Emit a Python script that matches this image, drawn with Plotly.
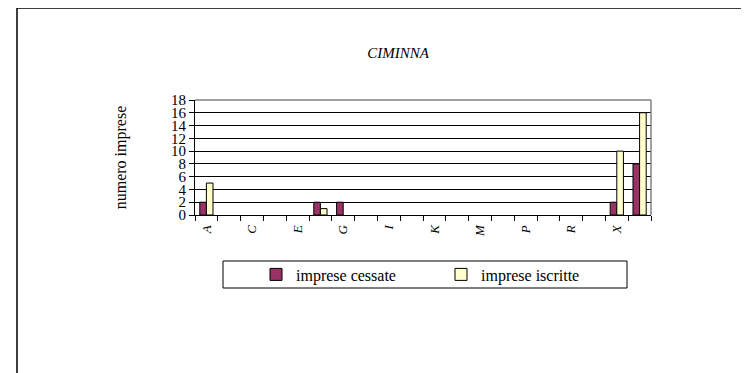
import plotly.graph_objects as go

categories = ["A", "B", "C", "D", "E", "F", "G", "H", "I", "J", "K", "L", "M", "N",
              "P", "Q", "R", "S", "X", "Totale"]
tick_labels = ["A", "", "C", "", "E", "", "G", "", "I", "", "K", "", "M", "",
               "P", "", "R", "", "X", ""]
cessate = [2, 0, 0, 0, 0, 2, 2, 0, 0, 0, 0, 0, 0, 0, 0, 0, 0, 0, 2, 8]
iscritte = [5, 0, 0, 0, 0, 1, 0, 0, 0, 0, 0, 0, 0, 0, 0, 0, 0, 0, 10, 16]

FONT = "Liberation Serif, Times New Roman, serif"

OFF = 8  # default page body margin
W, H = 749 - OFF, 373 - OFF
# plot area in screen px
L, R, T, B = 195, 651, 100, 215


def px_x(px):
    return (px - L) / (R - L)


def px_y(py):
    return (B - py) / (B - T)


def outline(vals):
    return [1 if v else 0 for v in vals]


fig = go.Figure()
fig.add_bar(x=categories, y=cessate, name="imprese cessate",
            marker=dict(color="#993366",
                        line=dict(color="black", width=outline(cessate))))
fig.add_bar(x=categories, y=iscritte, name="imprese iscritte",
            marker=dict(color="#FFFFCC",
                        line=dict(color="black", width=outline(iscritte))))

fig.update_layout(
    width=W, height=H,
    margin=dict(l=L - OFF, r=749 - R, t=T - OFF, b=373 - B, pad=0),
    paper_bgcolor="white", plot_bgcolor="white",
    barmode="group", bargap=0.42, bargroupgap=0,
    font=dict(family=FONT, color="black", size=16),
    title=dict(text="CIMINNA", xref="container", x=(398 - OFF) / W, xanchor="center",
               yref="container", y=1 - (53 - OFF) / H, yanchor="middle",
               font=dict(family=FONT, size=15, style="italic", color="black")),
    showlegend=True,
    legend=dict(orientation="h", x=px_x(256), xanchor="left",
                y=px_y(274.5), yanchor="middle",
                bgcolor="rgba(0,0,0,0)", borderwidth=0,
                entrywidth=140, entrywidthmode="pixels",
                font=dict(family=FONT, size=16, color="black"),
                traceorder="normal"),
)

fig.update_xaxes(
    type="category", tickmode="array", tickvals=categories, ticktext=tick_labels,
    tickangle=-90, tickfont=dict(family=FONT, size=13, style="italic", color="black"),
    ticks="outside", ticklen=5, tickcolor="black", tickson="boundaries",
    ticklabelstandoff=4,
    showline=True, linecolor="black", linewidth=1, mirror=False,
    showgrid=False, zeroline=False, fixedrange=True,
)
fig.update_yaxes(
    range=[0, 18], dtick=2, tick0=0,
    tickfont=dict(family=FONT, size=15, color="black"),
    ticks="outside", ticklen=5, tickcolor="black",
    showline=True, linecolor="black", linewidth=1,
    showgrid=True, gridcolor="black", gridwidth=1, zeroline=False,
    title=dict(text="numero imprese", standoff=40,
               font=dict(family=FONT, size=16, color="black")),
    fixedrange=True,
)

# plot-area border (top/right gray)
fig.add_shape(type="line", xref="paper", yref="paper", x0=0, x1=1, y0=1, y1=1,
              line=dict(color="#808080", width=1.5))
fig.add_shape(type="line", xref="paper", yref="paper", x0=1, x1=1, y0=0, y1=1,
              line=dict(color="#808080", width=1.5))
# legend box
fig.add_shape(type="rect", xref="paper", yref="paper",
              x0=px_x(223), x1=px_x(627), y0=px_y(288), y1=px_y(261),
              line=dict(color="black", width=1), fillcolor="rgba(0,0,0,0)")
# outer chart frame
fig.add_shape(type="rect", xref="paper", yref="paper",
              x0=px_x(17), x1=px_x(800), y0=px_y(400), y1=px_y(8),
              line=dict(color="black", width=1.5), fillcolor="rgba(0,0,0,0)")

fig.write_html("out.html", config=dict(displayModeBar=False))
